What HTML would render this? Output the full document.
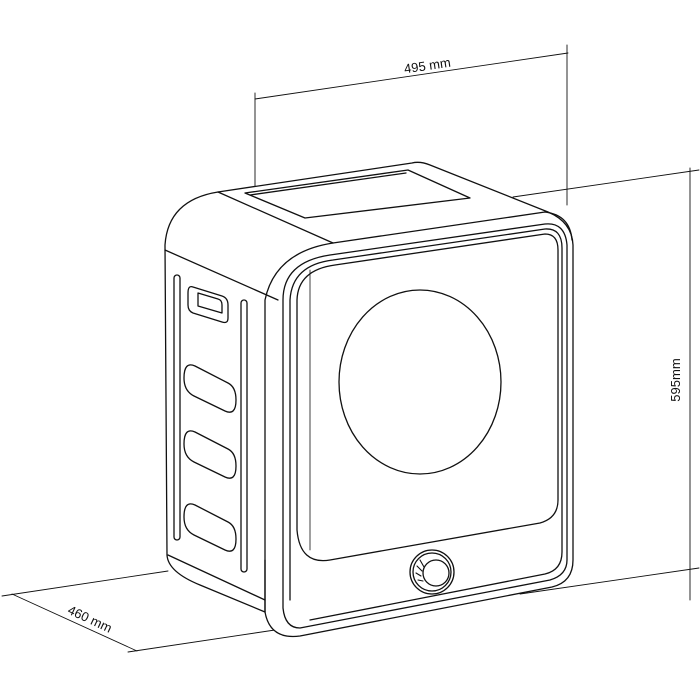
<!DOCTYPE html>
<html><head><meta charset="utf-8"><style>html,body{margin:0;padding:0;background:#fff}svg{display:block}</style></head>
<body>
<svg width="700" height="700" viewBox="0 0 700 700" xmlns="http://www.w3.org/2000/svg" fill="none" stroke="#111" stroke-width="1.3" stroke-linejoin="round" stroke-linecap="round">
<!-- dimensions -->
<line x1="255" y1="93" x2="255" y2="300" stroke-width="0.9"/>
<line x1="567" y1="45" x2="567" y2="205" stroke-width="0.9"/>
<line x1="255" y1="99" x2="568" y2="53" stroke-width="0.9"/>
<text x="428" y="70" transform="rotate(-8.4 428 70)" font-family="Liberation Sans, sans-serif" font-size="13" fill="#111" stroke="none" text-anchor="middle">495 mm</text>
<line x1="513" y1="197" x2="699" y2="170" stroke-width="0.9"/>
<line x1="690" y1="168" x2="690" y2="600" stroke-width="0.9"/>
<line x1="520" y1="594" x2="699" y2="568" stroke-width="0.9"/>
<text x="680" y="380" transform="rotate(-90 680 380)" font-family="Liberation Sans, sans-serif" font-size="13" fill="#111" stroke="none" text-anchor="middle">595mm</text>
<line x1="2" y1="596" x2="168" y2="571" stroke-width="0.9"/>
<line x1="12" y1="594" x2="137" y2="651" stroke-width="0.9"/>
<line x1="128" y1="652" x2="295" y2="627" stroke-width="0.9"/>
<text x="88" y="623" transform="rotate(25 88 623)" font-family="Liberation Sans, sans-serif" font-size="13" fill="#111" stroke="none" text-anchor="middle">460 mm</text>
<!-- body -->
<path d="M218 192 L412 163 Q420 161 430 165 L548 212 Q572 222 573 245 L573 560 Q573 582 552 587 L300 636 Q270 640 265 612 L265 560" fill="#fff"/>
<path d="M218 192 Q168 200 165 245 L167 555 Q168 572 200 585 L265 612"/>
<path d="M218 192 L333 243"/>
<line x1="165" y1="250" x2="278" y2="300"/>
<line x1="168" y1="555" x2="265" y2="600"/>
<!-- top panel -->
<path d="M245 193 L408 170 L470 198 L305 218 Z"/>
<path d="M250 195 L406 173"/>
<!-- front rounded -->
<path d="M333 243 Q275 252 265 300 L265 612"/>
<path d="M333 243 L545 212 Q570 215 572 240"/>
<path d="M283 608 L283 300 Q283 262 330 255 L545 224 Q565 222 567 245 L567 560 Q567 575 550 580 L300 628 Q285 628 283 608" />
<path d="M290 600 L290 300 Q292 265 333 260 L545 229 Q562 228 562 248 L562 552 Q562 570 545 574 L310 620"/>
<path d="M297 300 Q298 270 335 265 L545 234 Q558 234 558 250 L558 500 Q558 518 540 523 L330 560 Q300 565 297 530 Z"/>
<line x1="310" y1="270" x2="310" y2="550" stroke-width="0.8"/>
<ellipse cx="420" cy="382" rx="81" ry="92"/>
<!-- knob -->
<circle cx="432" cy="572" r="22"/>
<circle cx="432" cy="572" r="19"/>
<circle cx="436" cy="573" r="13"/>
<path d="M420 560 L424 567 M417 566 L422 571 M416 573 L421 576 M418 580 L423 581" stroke-width="1.1"/>
<!-- side slots -->
<rect x="174" y="275" width="6" height="265" rx="3"/>
<rect x="241" y="300" width="6" height="272" rx="3"/>
<path d="M193 287 L222 296 Q228 298 228 305 L228 318 Q228 324 222 322 L193 313 Q188 311 188 305 L188 293 Q188 285 193 287 Z"/>
<path d="M198 293 L218 299 Q222 300 222 305 L222 313 L198 306 Z"/>
<path d="M195 366 L228 383 Q236 387 236 400 Q236 416 225 411 L194 396 Q184 391 184 378 Q184 361 195 366 Z"/>
<path d="M195 432 L228 449 Q236 453 236 466 Q236 482 225 477 L194 462 Q184 457 184 444 Q184 427 195 432 Z"/>
<path d="M195 505 L228 522 Q236 526 236 539 Q236 555 225 550 L194 535 Q184 530 184 517 Q184 500 195 505 Z"/>
</svg>
</body></html>
